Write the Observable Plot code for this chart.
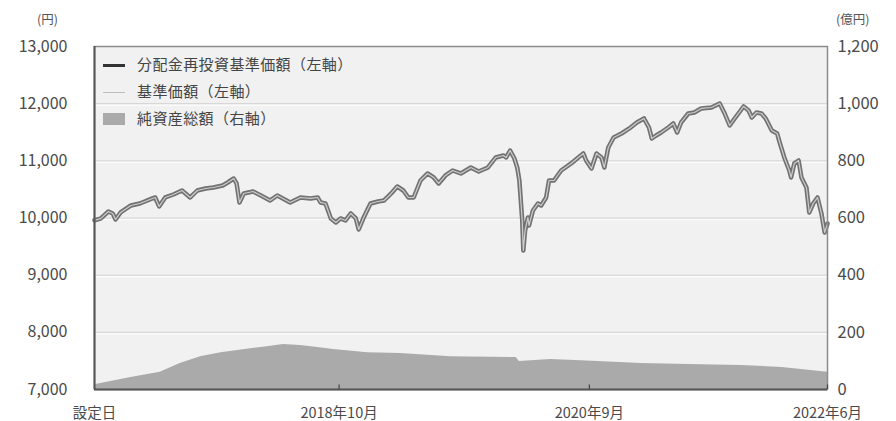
<!DOCTYPE html>
<html><head><meta charset="utf-8">
<script src="https://cdn.jsdelivr.net/npm/d3@7"></script>
<script src="https://cdn.jsdelivr.net/npm/@observablehq/plot@0.6"></script>
<style>
body{margin:0;background:#fff;font-family:"Noto Sans CJK JP","Noto Sans",sans-serif;}
#wrap{position:relative;width:896px;height:421px;overflow:hidden;}
.unit{position:absolute;top:9px;font-size:12.5px;color:#555;}
.leg{position:absolute;left:103px;color:#444;font-size:15px;line-height:1;}
.leg span.t{position:absolute;left:34px;top:-9px;white-space:nowrap;letter-spacing:0.4px;}
.sw{position:absolute;left:0;}
</style></head><body><div id="wrap"></div>
<script>
// 基準価額（円）: 読み取り値
const navDates = ["2016-11-15","2016-12-02","2016-12-24","2017-01-05","2017-01-13","2017-01-27","2017-02-25","2017-03-22","2017-04-26","2017-05-04","2017-05-15","2017-06-01","2017-06-24","2017-07-18","2017-08-10","2017-08-30","2017-09-22","2017-10-14","2017-11-09","2017-11-23","2017-12-10","2017-12-18","2017-12-26","2018-01-07","2018-02-02","2018-02-24","2018-03-22","2018-04-11","2018-05-17","2018-06-15","2018-07-13","2018-08-02","2018-08-10","2018-08-24","2018-09-08","2018-09-22","2018-10-05","2018-10-19","2018-11-03","2018-11-17","2018-11-25","2018-12-09","2018-12-28","2019-01-18","2019-02-04","2019-02-24","2019-03-13","2019-03-30","2019-04-13","2019-04-28","2019-05-17","2019-06-06","2019-06-23","2019-07-07","2019-07-26","2019-08-15","2019-09-07","2019-10-05","2019-10-27","2019-11-22","2019-12-14","2020-01-04","2020-01-12","2020-01-23","2020-02-04","2020-02-12","2020-02-18","2020-02-26","2020-02-29","2020-03-05","2020-03-13","2020-03-16","2020-03-27","2020-04-10","2020-04-19","2020-05-03","2020-05-11","2020-05-25","2020-06-14","2020-07-12","2020-08-01","2020-08-15","2020-08-23","2020-09-07","2020-09-21","2020-10-05","2020-10-13","2020-10-24","2020-11-08","2020-11-30","2020-12-22","2021-01-12","2021-02-01","2021-02-15","2021-02-23","2021-03-07","2021-03-21","2021-04-10","2021-04-24","2021-05-05","2021-05-16","2021-06-05","2021-06-22","2021-07-11","2021-08-09","2021-09-01","2021-09-15","2021-09-29","2021-10-13","2021-11-07","2021-11-21","2021-11-30","2021-12-13","2021-12-27","2022-01-08","2022-01-25","2022-02-09","2022-02-17","2022-03-01","2022-03-15","2022-03-20","2022-03-29","2022-04-10","2022-04-18","2022-05-02","2022-05-10","2022-05-21","2022-06-02","2022-06-13","2022-06-22","2022-06-30"];
const navValues = [9960,9990,10114,10079,9974,10097,10219,10254,10342,10359,10202,10359,10411,10481,10359,10481,10516,10534,10569,10621,10691,10604,10272,10429,10464,10394,10307,10394,10272,10359,10342,10359,10272,10254,9992,9922,9992,9957,10079,9992,9799,10009,10254,10289,10307,10429,10551,10481,10359,10359,10656,10779,10709,10604,10744,10831,10779,10884,10814,10884,11059,11094,11059,11181,11041,10884,10656,9957,9432,9782,10009,9869,10132,10254,10219,10359,10656,10656,10831,10954,11059,11129,11006,10866,11129,11059,10884,11234,11408,11478,11566,11671,11741,11583,11391,11443,11496,11583,11653,11496,11671,11828,11846,11916,11933,12003,11828,11618,11741,11951,11881,11758,11846,11828,11741,11531,11478,11303,11059,10831,10709,10954,11006,10709,10534,10097,10254,10359,10079,9747,9904];
// 分配金再投資基準価額（円）: 分配実績なしのため基準価額と重なって描かれている
const reinvestValues = navValues;

// 純資産総額（億円）: 読み取り値
const assetDates = ["2016-11-15","2017-02-25","2017-05-18","2017-07-13","2017-09-08","2017-11-04","2018-01-26","2018-03-14","2018-04-28","2018-06-15","2018-08-02","2018-09-16","2018-12-20","2019-03-22","2019-08-10","2020-01-26","2020-02-09","2020-02-18","2020-05-16","2020-08-09","2021-01-25","2021-07-11","2021-11-02","2022-02-23","2022-06-30"];
const assetValues = [17,42,60,91,115,129,143,150,157,154,147,140,129,126,115,112,112,98,105,101,91,87,84,77,60];

const xTickDates = ["2016-11-15","2018-10-01","2020-09-01","2022-06-30"];
const xTickLabels = ["設定日","2018年10月","2020年9月","2022年6月"];
const leftTicks = [7000,8000,9000,10000,11000,12000,13000];
const rightTickLabels = ["0","200","400","600","800","1,000","1,200"];
const legendLabels = ["分配金再投資基準価額（左軸）","基準価額（左軸）","純資産総額（右軸）"];

const parse = d3.utcParse("%Y-%m-%d");
const nav = navDates.map((d,i)=>({date:parse(d), nav:navValues[i], re:reinvestValues[i]}));
const assets = assetDates.map((d,i)=>({date:parse(d), v:assetValues[i]}));
// 右軸 0–1,200億円 を 左軸 7,000–13,000円 の目盛りに対応させる
const toLeft = v => 7000 + v * (13000-7000) / 1200;
const xt = xTickDates.map(parse);

const chart = Plot.plot({
  width: 896, height: 421,
  marginTop: 46, marginBottom: 32, marginLeft: 94, marginRight: 69,
  style: {fontFamily: '"Noto Sans CJK JP","Noto Sans",sans-serif', fontSize: "14px", color: "#4a4a4a", background: "#fff"},
  x: {type: "utc", domain: [xt[0], xt[3]]},
  y: {domain: [7000, 13000]},
  marks: [
    Plot.frame({fill: "#f1f1f1", stroke: null}),
    Plot.ruleY(leftTicks.slice(1,-1), {stroke: "#fbfbfb", strokeWidth: 1.5, dy: 1.5}),
    Plot.ruleY(leftTicks.slice(1,-1), {stroke: "#d2d2d2", strokeWidth: 1}),
    Plot.area(assets, {x1: "date", y1: () => 7000, y2: d => toLeft(d.v), fill: "#aaaaaa"}),
    Plot.lineY(nav, {x: "date", y: "re", stroke: "#727272", strokeWidth: 4.5, strokeLinejoin: "round"}),
    Plot.lineY(nav, {x: "date", y: "nav", stroke: "#cdcdcd", strokeWidth: 1.2}),
    Plot.frame({stroke: "#8c8c8c", strokeWidth: 1.5}),
    Plot.ruleX([xt[0]], {stroke: "#555", strokeWidth: 2}),
    Plot.ruleY([7000], {stroke: "#555", strokeWidth: 2}),
    Plot.ruleX(xt.slice(1), {y1: 7000, y2: 7080, stroke: "#444", strokeWidth: 1.2}),
    Plot.axisY({ticks: leftTicks, anchor: "left", tickSize: 0, tickPadding: 27, tickFormat: d3.format(","), fontSize: 16}),
    Plot.axisY({ticks: leftTicks, anchor: "right", tickSize: 0, tickPadding: 10, tickFormat: (d,i) => rightTickLabels[i], fontSize: 16.5}),
    Plot.axisX({ticks: xt, tickSize: 0, tickPadding: 18, tickFormat: (d,i) => xTickLabels[i], fontSize: 14.5, label: null})
  ]
});
const wrap = document.getElementById("wrap");
wrap.appendChild(chart);

function addDiv(cls, style, html){const e=document.createElement("div");e.className=cls;e.setAttribute("style",style);e.innerHTML=html;wrap.appendChild(e);return e;}
addDiv("unit","left:37px;","(円)");
addDiv("unit","left:836px;","(億円)");
const swatches = [
  '<div class="sw" style="top:-1.5px;width:22px;height:3px;background:#333;"></div>',
  '<div class="sw" style="top:-0.5px;width:22px;height:1.3px;background:#bdbdbd;"></div>',
  '<div class="sw" style="top:-6px;width:22px;height:12px;background:#aaaaaa;"></div>'
];
const legTops = [65, 92, 119];
legendLabels.forEach((t,i)=>{
  addDiv("leg","top:"+legTops[i]+"px;", swatches[i] + '<span class="t">'+t+'</span>');
});
</script>
</body></html>
